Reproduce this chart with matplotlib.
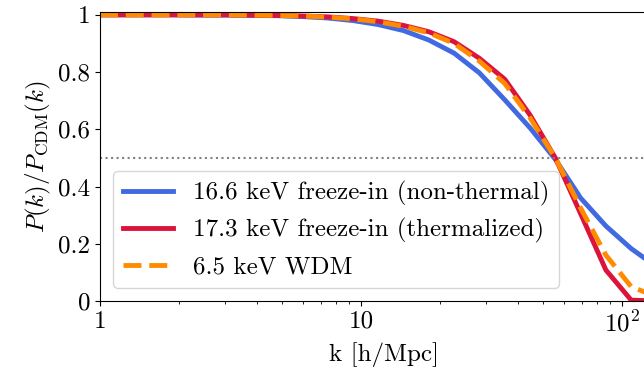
import numpy as np
import matplotlib
matplotlib.use("Agg")
import matplotlib.pyplot as plt

# wavenumbers (h/Mpc), log-spaced grid
k = [1.0, 1.25, 1.5625, 1.953, 2.441, 3.052, 3.815, 4.768, 5.960, 7.451,
     9.313, 11.64, 14.55, 18.19, 22.74, 28.42, 35.53, 44.41, 55.51, 69.39,
     86.74, 108.4, 135.5]

# transfer ratios P(k)/P_CDM(k)
ratio_nonthermal = [1.0, 1.0, 1.0, 1.0, 0.999, 0.999, 0.998, 0.997, 0.994, 0.989,
                    0.980, 0.966, 0.945, 0.912, 0.866, 0.797, 0.703, 0.605, 0.495,
                    0.360, 0.262, 0.183, 0.120]
ratio_thermalized = [1.0, 1.0, 1.0, 1.0, 1.0, 1.0, 0.999, 0.998, 0.996, 0.993,
                     0.987, 0.978, 0.963, 0.941, 0.906, 0.848, 0.775, 0.650, 0.500,
                     0.305, 0.108, 0.003, 0.0]
ratio_wdm = [1.0, 1.0, 1.0, 1.0, 1.0, 1.0, 0.999, 0.998, 0.996, 0.992,
             0.986, 0.976, 0.960, 0.937, 0.900, 0.838, 0.760, 0.640, 0.500,
             0.325, 0.160, 0.050, 0.015]

labels = ['16.6 keV freeze-in (non-thermal)',
          '17.3 keV freeze-in (thermalized)',
          '6.5 keV WDM']
yticks = [0, 0.2, 0.4, 0.6, 0.8, 1.0]
ytick_labels = ['0', '0.2', '0.4', '0.6', '0.8', '1']

plt.rcParams['font.family'] = 'serif'
plt.rcParams['font.serif'] = ['cmr10']
plt.rcParams['mathtext.fontset'] = 'cm'
plt.rcParams['axes.unicode_minus'] = False
plt.rcParams['font.size'] = 18

fig = plt.figure(figsize=(6.44, 3.83), dpi=100)
ax = fig.add_axes([0.1553, 0.2141, 0.882, 0.7546])

ax.plot(k, ratio_nonthermal, color='royalblue', lw=3.5, label=labels[0])
ax.plot(k, ratio_thermalized, color='crimson', lw=3.5, label=labels[1])
ax.plot(k, ratio_wdm, color='darkorange', lw=3.5, ls='--', label=labels[2])
ax.axhline(0.5, color='gray', ls=':', lw=1.5)

ax.set_xscale('log')
ax.set_xlim(1, 150)
ax.set_ylim(0, 1.01)
ax.set_xticks([1, 10, 100])
ax.set_xticklabels(['1', '10', r'$10^2$'])
ax.set_yticks(yticks)
ax.set_yticklabels(ytick_labels)

ax.set_xlabel('k [h/Mpc]')
ax.set_ylabel(r'$P(k)/P_{\rm CDM}(k)$')
ax.legend(loc='lower left', fontsize=18)

fig.savefig('out.png', dpi=100)
